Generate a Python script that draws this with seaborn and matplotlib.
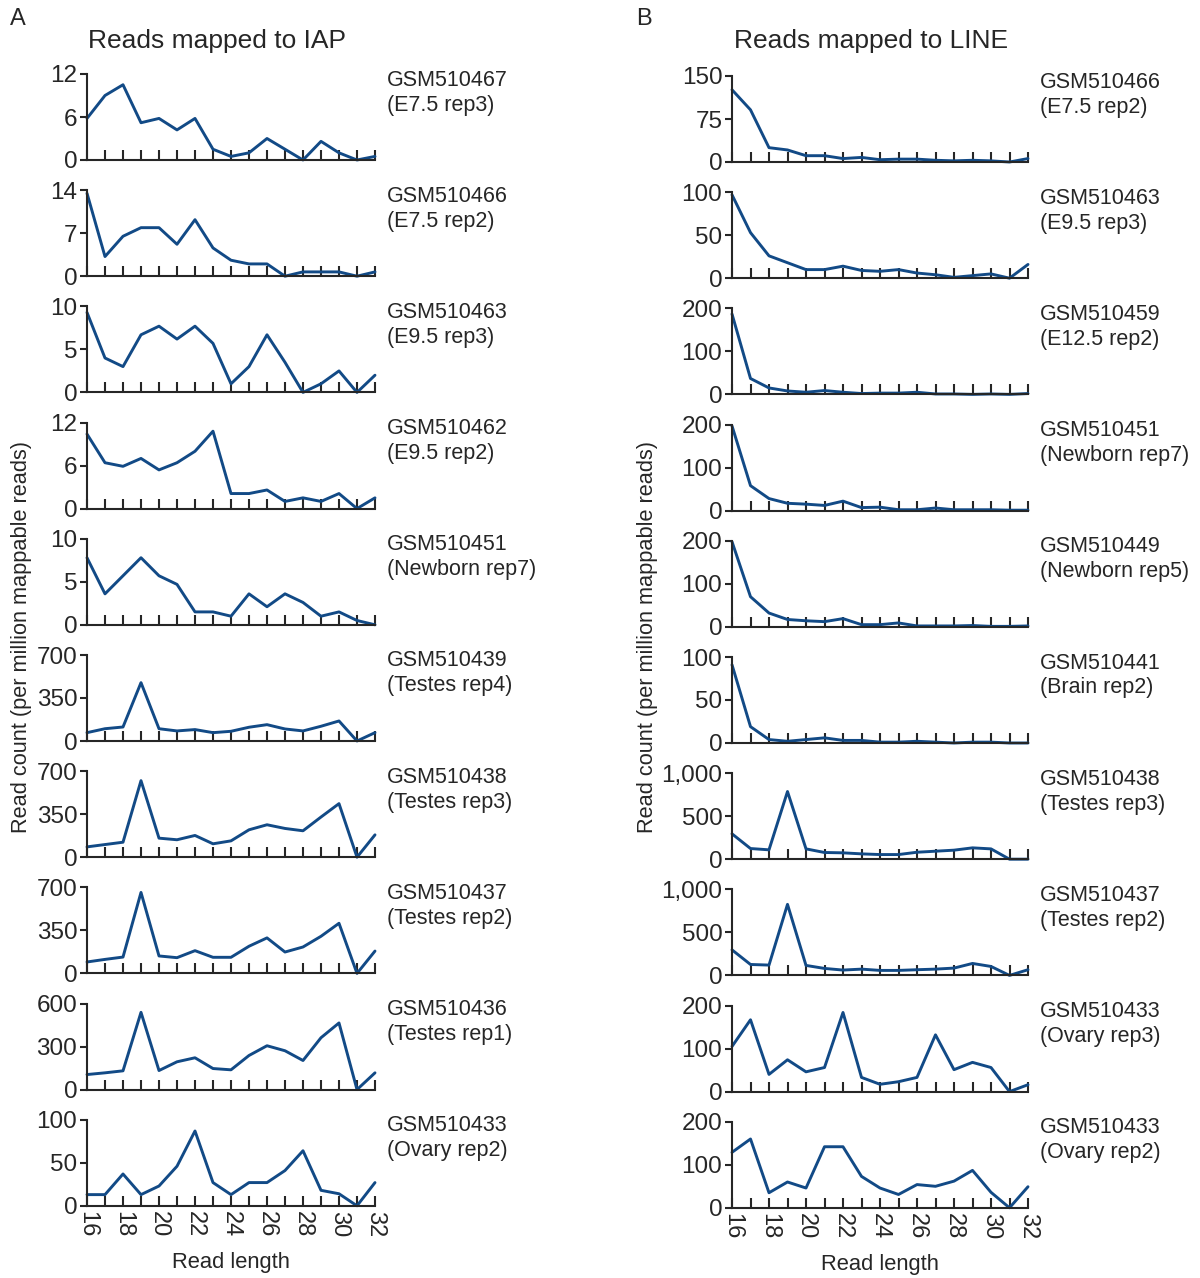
import matplotlib
matplotlib.use("Agg")
import matplotlib.pyplot as plt
import seaborn as sns

# read lengths on the x axis
lengths = list(range(16, 33))

# ---- panel A: reads mapped to IAP ----
iap_names = ["GSM510467", "GSM510466", "GSM510463", "GSM510462", "GSM510451",
             "GSM510439", "GSM510438", "GSM510437", "GSM510436", "GSM510433"]
iap_samples = ["(E7.5 rep3)", "(E7.5 rep2)", "(E9.5 rep3)", "(E9.5 rep2)", "(Newborn rep7)",
               "(Testes rep4)", "(Testes rep3)", "(Testes rep2)", "(Testes rep1)", "(Ovary rep2)"]
iap_ymax = [12, 14, 10, 12, 10, 700, 700, 700, 600, 100]

iap_gsm510467 = [5.8, 9, 10.5, 5.2, 5.8, 4.2, 5.8, 1.5, 0.5, 1, 3, 1.5, 0, 2.6, 1, 0, 0.5]
iap_gsm510466 = [13.5, 3.2, 6.5, 7.9, 7.9, 5.2, 9.2, 4.6, 2.6, 2, 2, 0, 0.7, 0.7, 0.7, 0, 0.7]
iap_gsm510463 = [9.3, 4, 3, 6.7, 7.7, 6.2, 7.7, 5.7, 1, 3, 6.7, 3.5, 0, 1, 2.5, 0, 2]
iap_gsm510462 = [10.4, 6.4, 5.9, 7, 5.4, 6.4, 8, 10.8, 2.1, 2.1, 2.6, 1, 1.5, 1, 2.1, 0, 1.5]
iap_gsm510451 = [7.8, 3.6, 5.7, 7.8, 5.7, 4.7, 1.5, 1.5, 1, 3.6, 2.1, 3.6, 2.6, 1, 1.5, 0.5, 0]
iap_gsm510439 = [68, 100, 114, 475, 100, 82, 93, 68, 79, 112, 133, 98, 82, 120, 163, 0, 68]
iap_gsm510438 = [84, 103, 122, 623, 155, 142, 177, 109, 133, 223, 264, 234, 215, 327, 436, 0, 182]
iap_gsm510437 = [93, 114, 133, 659, 142, 128, 185, 131, 131, 221, 289, 174, 215, 302, 408, 0, 182]
iap_gsm510436 = [105, 117, 131, 539, 133, 194, 222, 147, 138, 238, 306, 271, 203, 362, 465, 0, 117]
iap_gsm510433 = [13, 13, 37, 13, 23, 46, 87, 27, 13, 27, 27, 41, 64, 18, 14, 0, 27]

iap_values = [iap_gsm510467, iap_gsm510466, iap_gsm510463, iap_gsm510462, iap_gsm510451,
              iap_gsm510439, iap_gsm510438, iap_gsm510437, iap_gsm510436, iap_gsm510433]

# ---- panel B: reads mapped to LINE ----
line_names = ["GSM510466", "GSM510463", "GSM510459", "GSM510451", "GSM510449",
              "GSM510441", "GSM510438", "GSM510437", "GSM510433", "GSM510433"]
line_samples = ["(E7.5 rep2)", "(E9.5 rep3)", "(E12.5 rep2)", "(Newborn rep7)", "(Newborn rep5)",
                "(Brain rep2)", "(Testes rep3)", "(Testes rep2)", "(Ovary rep3)", "(Ovary rep2)"]
line_ymax = [150, 100, 200, 200, 200, 100, 1000, 1000, 200, 200]

line_gsm510466 = [126, 91, 25, 21, 11, 11, 6, 8, 4, 5, 5, 3, 2, 3, 2, 0, 6]
line_gsm510463 = [97, 53, 26, 18, 10, 10, 14, 9, 8, 10, 6, 4, 1, 3, 5, 0, 16]
line_gsm510459 = [187, 37, 15, 8, 5, 9, 5, 2, 3, 3, 5, 1, 1, 0, 1, 0, 2]
line_gsm510451 = [197, 58, 28, 17, 15, 12, 22, 7, 8, 2, 2, 6, 2, 2, 2, 1, 1]
line_gsm510449 = [198, 70, 32, 17, 14, 12, 19, 5, 5, 9, 2, 2, 2, 3, 1, 1, 2]
line_gsm510441 = [91, 19, 4, 2, 4, 6, 3, 3, 1, 1, 2, 1, 0, 1, 1, 0, 0]
line_gsm510438 = [295, 124, 109, 787, 120, 78, 74, 62, 54, 54, 81, 93, 105, 132, 120, 0, 0]
line_gsm510437 = [297, 127, 120, 826, 116, 81, 62, 73, 58, 58, 66, 73, 85, 139, 104, 0, 66]
line_gsm510433_r3 = [105, 167, 40, 74, 46, 56, 184, 33, 17, 23, 33, 132, 51, 68, 56, 0, 16]
line_gsm510433_r2 = [129, 160, 35, 60, 46, 142, 142, 73, 46, 31, 54, 50, 62, 87, 36, 0, 49]

line_values = [line_gsm510466, line_gsm510463, line_gsm510459, line_gsm510451, line_gsm510449,
               line_gsm510441, line_gsm510438, line_gsm510437, line_gsm510433_r3, line_gsm510433_r2]

sns.set_style("ticks")
plt.rcParams['font.family'] = ['Liberation Sans', 'DejaVu Sans']

W, H = 1200, 1278
fig = plt.figure(figsize=(W / 100, H / 100), dpi=100)

blue = "#124a86"
fs = 15.5        # sample labels, axis labels
tick_fs = 17.5   # tick labels


def fmt(v):
    return f"{v:,}"


def draw_column(x0, x1, bottom0, names, samples, ymaxs, values, label_x):
    for i in range(10):
        bot = bottom0 + 116.2 * i
        top = bot - 86
        ax = fig.add_axes([x0 / W, 1 - bot / H, (x1 - x0) / W, 86 / H])
        sns.lineplot(x=lengths, y=values[i], ax=ax, color=blue, linewidth=2.1)
        for line in ax.lines:
            line.set_clip_on(False)
        ax.set_xlim(16, 32)
        ax.set_ylim(0, ymaxs[i])
        ym = ymaxs[i]
        yt = [0, ym / 2, ym]
        ax.set_yticks(yt)
        ax.set_yticklabels([fmt(int(v)) if float(v).is_integer() else fmt(v) for v in yt],
                           fontsize=tick_fs)
        ax.set_xticks(lengths)
        if i == 9:
            ax.set_xticklabels([str(v) if v % 2 == 0 else "" for v in lengths],
                               rotation=-90, fontsize=tick_fs - 0.5)
            ax.set_xlabel("Read length", fontsize=fs + 0.3, labelpad=10)
        else:
            ax.set_xticklabels([])
        ax.tick_params(axis='x', direction='in', length=7, width=1.5, pad=4)
        ax.tick_params(axis='y', direction='out', length=5, width=1.5, pad=2)
        for s in ["top", "right"]:
            ax.spines[s].set_visible(False)
        for s in ["left", "bottom"]:
            ax.spines[s].set_linewidth(1.5)
        ax.set_facecolor("none")
        fig.text(label_x / W, 1 - (top + 6) / H, names[i], fontsize=fs, va='center')
        fig.text(label_x / W, 1 - (top + 31) / H, samples[i], fontsize=fs, va='center')


draw_column(87, 375, 160, iap_names, iap_samples, iap_ymax, iap_values, 387)
draw_column(732, 1028, 162, line_names, line_samples, line_ymax, line_values, 1040)

fig.text(10 / W, 1 - 19 / H, "A", fontsize=17, va='center')
fig.text(636 / W, 1 - 19 / H, "B", fontsize=17, va='center')
fig.text(217 / W, 1 - 41 / H, "Reads mapped to IAP", fontsize=19, va='center', ha='center')
fig.text(871 / W, 1 - 41 / H, "Reads mapped to LINE", fontsize=19, va='center', ha='center')
fig.text(22 / W, 1 - 637 / H, "Read count (per million mappable reads)", fontsize=15.7,
         rotation=90, va='center', ha='center')
fig.text(648 / W, 1 - 637 / H, "Read count (per million mappable reads)", fontsize=15.7,
         rotation=90, va='center', ha='center')

fig.savefig("out.png", dpi=100, facecolor="white")
